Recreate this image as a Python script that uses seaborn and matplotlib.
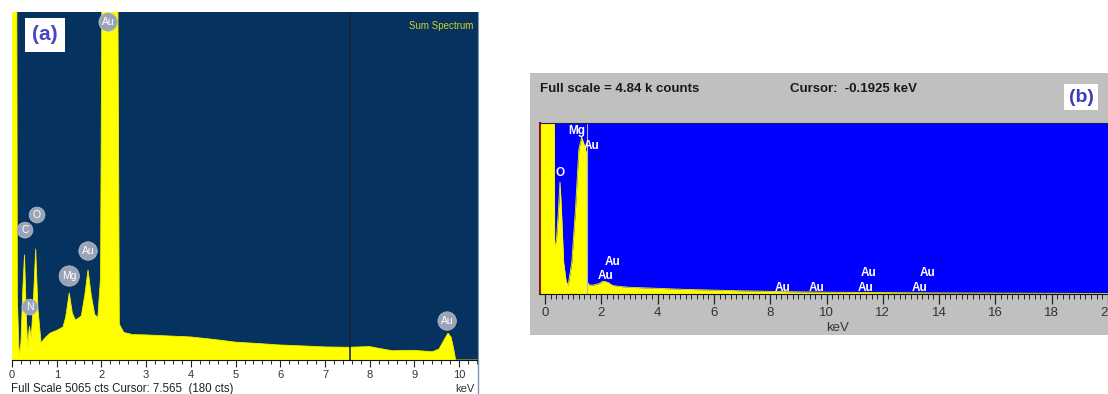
import matplotlib
matplotlib.use("Agg")
import matplotlib.pyplot as plt
import matplotlib.ticker as mticker
from matplotlib.patches import Rectangle
from matplotlib.lines import Line2D
import seaborn as sns

# %% Data - panel (a), SEM-EDS sum spectrum (counts, full scale 5065)
energy_a = [0.00, 0.10, 0.12, 0.16, 0.20, 0.24, 0.28, 0.32, 0.35, 0.39, 0.43,
            0.47, 0.53, 0.58, 0.65, 0.75, 0.85, 1.00, 1.14, 1.20, 1.28, 1.35,
            1.42, 1.55, 1.63, 1.70, 1.77, 1.85, 1.92, 1.98, 2.03, 2.35, 2.40,
            2.50, 2.70, 3.00, 3.50, 4.00, 4.50, 5.00, 5.50, 6.00, 6.50, 7.00,
            7.50, 8.00, 8.20, 8.50, 9.00, 9.40, 9.55, 9.65, 9.75, 9.82, 9.88,
            9.92, 10.42]
counts_a = [8000, 8000, 900, 60, 250, 1000, 1530, 650, 200, 490, 330,
            750, 1615, 750, 250, 330, 390, 430, 480, 620, 975, 680,
            580, 640, 950, 1310, 950, 660, 620, 1200, 8000, 8000, 520,
            400, 370, 365, 350, 335, 300, 260, 240, 218, 205, 190,
            185, 195, 170, 135, 140, 120, 160, 280, 390, 330, 150,
            0, 0]
peak_names_a = ["Au", "C", "O", "N", "Mg", "Au", "Au"]
peak_x_a = [2.15, 0.29, 0.56, 0.40, 1.28, 1.70, 9.73]
peak_y_a = [4918, 1890, 2110, 770, 1222, 1586, 567]
full_scale_a = 5065
cursor_a = 7.565

# %% Data - panel (b), counts (full scale 4.84 k)
energy_b = [-0.18, 0.32, 0.34, 0.40, 0.47, 0.53, 0.58, 0.66, 0.75, 0.82,
            0.95, 1.08, 1.20, 1.30, 1.40, 1.47, 1.50, 1.55, 1.70, 1.90,
            2.05, 2.15, 2.25, 2.40, 2.70, 3.00, 4.00, 5.00, 6.00, 7.00,
            8.00, 9.00, 10.0, 12.0, 14.0, 16.0, 18.0, 20.0]
counts_b = [8000, 8000, 1400, 1500, 2300, 3170, 2400, 900, 350, 250,
            900, 2400, 4100, 4440, 4200, 4000, 350, 260, 250, 290,
            360, 350, 320, 240, 210, 190, 160, 130, 110, 90,
            75, 60, 50, 40, 30, 25, 20, 15]
peak_names_b = ["Mg", "Au", "O", "Au", "Au", "Au", "Au", "Au", "Au", "Au", "Au"]
peak_x_b = [1.13, 1.67, 0.53, 2.41, 2.16, 8.44, 9.65, 11.49, 11.38, 13.58, 13.30]
peak_y_b = [4600, 4190, 3420, 900, 510, 170, 170, 590, 170, 590, 170]
full_scale_b = 4840
marker_b = 1.5

sns.set_style("white")
plt.rcParams["font.family"] = ["Liberation Sans", "DejaVu Sans"]

W, H = 1108, 394
fig = plt.figure(figsize=(W / 100, H / 100), dpi=100)


def fx(px):
    return px / W


def fy(py):
    return 1 - py / H


# %% Panel (a)
ax_a = fig.add_axes([fx(12), fy(360), fx(478) - fx(12), fy(12) - fy(360)])
ax_a.set_facecolor("#06325F")
ax_a.fill_between(energy_a, counts_a, 0, color="#FFFF00", lw=0)
sns.lineplot(x=energy_a, y=counts_a, ax=ax_a, color="#F2F200", lw=0.6)
ax_a.axvline(cursor_a, color="#16263A", lw=1.2)
ax_a.set_xlim(0, 10.42)
ax_a.set_ylim(0, full_scale_a)
ax_a.set_yticks([])
ax_a.xaxis.set_major_locator(mticker.MultipleLocator(1))
ax_a.xaxis.set_minor_locator(mticker.MultipleLocator(0.2))
ax_a.tick_params(axis="x", which="major", direction="out", length=5, width=0.8,
                 color="#222222", labelsize=8, labelcolor="#333333", pad=2,
                 bottom=True)
ax_a.tick_params(axis="x", which="minor", direction="out", length=3, width=0.7,
                 color="#222222", bottom=True)
for s in ["left", "top"]:
    ax_a.spines[s].set_visible(False)
ax_a.spines["bottom"].set_color("#111111")
ax_a.spines["right"].set_color("#7F95B5")
ax_a.set_xlabel("")
ax_a.set_ylabel("")

for name, x, y in zip(peak_names_a, peak_x_a, peak_y_a):
    ax_a.text(x, y, name, ha="center", va="center", color="white", fontsize=7.5,
              bbox=dict(boxstyle="circle,pad=0.28", fc="#9AA4B6", ec="#B8C0CC", lw=0.5))

ax_a.text(0.99, 0.975, "Sum Spectrum", transform=ax_a.transAxes, ha="right",
          va="top", color="#D2D22A", fontsize=7)
fig.text(fx(45), fy(35), "(a)", ha="center", va="center", fontsize=15,
         fontweight="bold", color="#4A44C0",
         bbox=dict(boxstyle="square,pad=0.35", fc="white", ec="none"))
fig.text(fx(11), fy(389), "Full Scale 5065 cts Cursor: 7.565  (180 cts)",
         ha="left", va="center", fontsize=8.3, color="#222222")
fig.text(fx(465), fy(389), "keV", ha="center", va="center", fontsize=8,
         color="#333333")
fig.add_artist(Line2D([fx(478), fx(478)], [fy(360), 0], transform=fig.transFigure,
                      color="#7F95B5", lw=1))

# %% Panel (b)
fig.add_artist(Rectangle((fx(530), fy(335)), fx(1108) - fx(530), fy(73) - fy(335),
                         transform=fig.transFigure, fc="#C0C0C0", ec="none",
                         zorder=-1))
ax_b = fig.add_axes([fx(540), fy(294), fx(1108) - fx(540), fy(123) - fy(294)])
ax_b.set_facecolor("#0000FF")
ax_b.fill_between(energy_b, counts_b, 0, color="#FFFF00", lw=0)
sns.lineplot(x=energy_b, y=counts_b, ax=ax_b, color="#F4F400", lw=0.6)
ax_b.axvline(marker_b, color="#B0B0D8", lw=0.8)
ax_b.set_xlim(-0.18, 20.0)
ax_b.set_ylim(0, full_scale_b)
ax_b.set_yticks([])
ax_b.xaxis.set_major_locator(mticker.MultipleLocator(2))
ax_b.xaxis.set_minor_locator(mticker.MultipleLocator(0.2))
ax_b.tick_params(axis="x", which="major", direction="out", length=7, width=0.9,
                 color="#222222", labelsize=9.5, labelcolor="#333333", pad=2,
                 bottom=True)
ax_b.tick_params(axis="x", which="minor", direction="out", length=3.5, width=0.7,
                 color="#222222", bottom=True)
ax_b.spines["right"].set_visible(False)
ax_b.spines["top"].set_color("#1E1E50")
ax_b.spines["left"].set_color("#8B1A1A")
ax_b.spines["left"].set_linewidth(1.5)
ax_b.spines["bottom"].set_color("#111111")
ax_b.set_xlabel("")
ax_b.set_ylabel("")

for name, x, y in zip(peak_names_b, peak_x_b, peak_y_b):
    ax_b.text(x, y, name, ha="center", va="center", color="white", fontsize=8.5,
              fontweight="bold")

fig.text(fx(838), fy(328), "keV", ha="center", va="center", fontsize=9.5,
         color="#333333")
fig.text(fx(540), fy(89), "Full scale = 4.84 k counts", ha="left", va="center",
         fontsize=9.5, fontweight="bold", color="#1A1A1A")
fig.text(fx(790), fy(89), "Cursor:  -0.1925 keV", ha="left", va="center",
         fontsize=9.5, fontweight="bold", color="#1A1A1A")
fig.text(fx(1081), fy(97), "(b)", ha="center", va="center", fontsize=14,
         fontweight="bold", color="#3C3CB4",
         bbox=dict(boxstyle="square,pad=0.25", fc="white", ec="none"))

fig.savefig("out.png", dpi=100)
